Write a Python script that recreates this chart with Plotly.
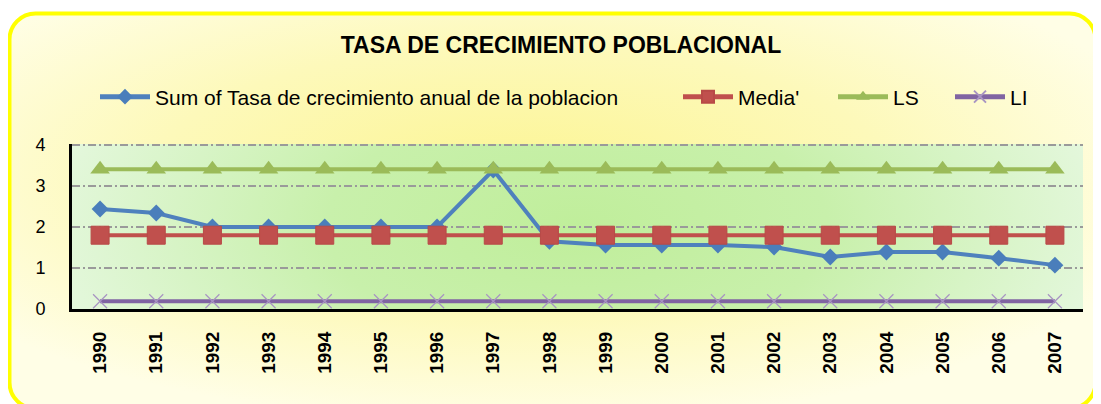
import base64
import plotly.graph_objects as go

years = [str(y) for y in range(1990, 2008)]
tasa = [2.44, 2.34, 2.0, 2.0, 2.0, 2.0, 2.0, 3.39, 1.65, 1.56, 1.56, 1.56, 1.51, 1.27, 1.39, 1.39, 1.24, 1.07]
media = [1.80] * 18
ls_vals = [3.41] * 18
li_vals = [0.19] * 18

title_text = "TASA DE CRECIMIENTO POBLACIONAL"
names = ["Sum of Tasa de crecimiento anual de la poblacion", "Media'", "LS", "LI"]

# page body has an 8px margin: work in figure pixels = screen pixels - 8
O = 8
W, H = 1101 - O, 404 - O
ML, MR, MT, MB = 72 - O, 18, 144 - O, 404 - 309
PW, PH = W - ML - MR, H - MT - MB


def px_to_paper_x(px):
    return (px - O - ML) / PW


def px_to_paper_y(py):
    return (H - MB - (py - O)) / PH


def svg_uri(svg):
    return "data:image/svg+xml;base64," + base64.b64encode(svg.encode()).decode()


frame_svg = """<svg xmlns='http://www.w3.org/2000/svg' width='1091' height='400' viewBox='0 0 1091 400' preserveAspectRatio='none'>
<defs><radialGradient id='g' cx='0.47' cy='0.42' r='0.62'>
<stop offset='0' stop-color='#fcf593'/><stop offset='0.55' stop-color='#fdf9ba'/><stop offset='1' stop-color='#fffee6'/>
</radialGradient></defs>
<rect x='2.5' y='2.5' width='1086' height='395' rx='26' ry='26' fill='url(#g)' stroke='#ffff00' stroke-width='4'/>
</svg>"""

plot_svg = """<svg xmlns='http://www.w3.org/2000/svg' width='1011' height='165' viewBox='0 0 1011 165' preserveAspectRatio='none'>
<defs><radialGradient id='p' cx='0.5' cy='0.5' r='0.55' gradientTransform='translate(0.5,0.5) scale(1,3) translate(-0.5,-0.5)'>
<stop offset='0' stop-color='#c0ee9b'/><stop offset='0.45' stop-color='#c8f0ab'/><stop offset='1' stop-color='#e6f8e0'/>
</radialGradient></defs>
<rect x='0' y='0' width='1011' height='165' fill='url(#p)'/>
</svg>"""

fig = go.Figure()

fig.add_trace(go.Scatter(
    x=years, y=tasa, name=names[0], mode="lines+markers",
    line=dict(color="#4f81bd", width=4),
    marker=dict(symbol="diamond", size=13, color="#4a7ebb"),
    cliponaxis=False, legend="legend",
))
fig.add_trace(go.Scatter(
    x=years, y=media, name=names[1], mode="lines+markers",
    line=dict(color="#c0504d", width=4),
    marker=dict(symbol="square", size=18, color="#c0504d", line=dict(color="#b84a47", width=1)),
    cliponaxis=False, legend="legend2",
))
fig.add_trace(go.Scatter(
    x=years, y=ls_vals, name=names[2], mode="lines+markers",
    line=dict(color="#9bbb59", width=4),
    marker=dict(symbol="triangle-up", size=17, color="#9bbb59"),
    cliponaxis=False, legend="legend3",
))
fig.add_trace(go.Scatter(
    x=years, y=li_vals, name=names[3], mode="lines+markers",
    line=dict(color="#8064a2", width=4),
    marker=dict(symbol="x-thin-open", size=14, color="#a894c2", line=dict(color="#a894c2", width=1.2)),
    cliponaxis=False, legend="legend4",
))


def leg(px):
    return dict(
        x=px_to_paper_x(px), xanchor="left",
        y=px_to_paper_y(97), yanchor="middle",
        font=dict(size=21, color="black"),
        bgcolor="rgba(0,0,0,0)",
        itemwidth=50, itemsizing="constant",
    )


fig.update_layout(
    width=W, height=H,
    margin=dict(l=ML, r=MR, t=MT, b=MB),
    paper_bgcolor="white",
    plot_bgcolor="rgba(0,0,0,0)",
    font=dict(family="Liberation Sans, Arial, sans-serif", color="black"),
    title=dict(
        text="<b>" + title_text + "</b>",
        x=px_to_paper_x(561), xanchor="center", xref="paper",
        y=1 - (45 - O) / H, yanchor="middle",
        font=dict(size=23, color="black"),
    ),
    showlegend=True,
    legend=leg(95),
    legend2=leg(678),
    legend3=leg(833),
    legend4=leg(950),
    images=[
        dict(source=svg_uri(frame_svg), xref="paper", yref="paper",
             x=px_to_paper_x(7), y=px_to_paper_y(11),
             sizex=1091 / PW, sizey=400 / PH,
             xanchor="left", yanchor="top", sizing="stretch", layer="below"),
        dict(source=svg_uri(plot_svg), xref="paper", yref="paper",
             x=0, y=1, sizex=1, sizey=1,
             xanchor="left", yanchor="top", sizing="stretch", layer="below"),
    ],
)

fig.update_xaxes(
    type="category", range=[-0.5, 17.5],
    showgrid=False, zeroline=False,
    showline=True, linecolor="black", linewidth=3,
    ticks="", tickangle=-90, ticklabelstandoff=12,
    tickfont=dict(size=19, color="black", family="Liberation Sans, Arial, sans-serif", weight="bold"),
)
fig.update_yaxes(
    range=[0, 4.025], tickvals=[0, 1, 2, 3, 4],
    showgrid=True, gridcolor="#9a9a9a", gridwidth=2, griddash="8px,3px,2px,3px",
    zeroline=False,
    showline=True, linecolor="black", linewidth=3,
    ticks="", ticklabelstandoff=20,
    tickfont=dict(size=18, color="black"),
)

fig.write_html("out.html")
